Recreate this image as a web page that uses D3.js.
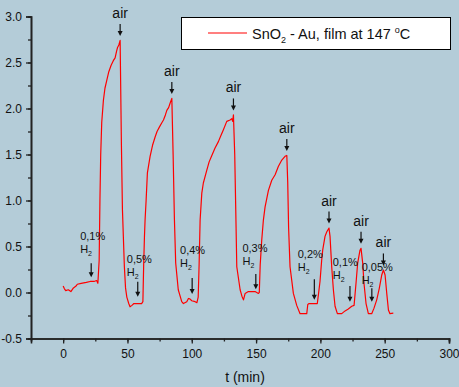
<!DOCTYPE html>
<html>
<head>
<meta charset="utf-8">
<script src="https://cdn.jsdelivr.net/npm/d3@7"></script>
<style>
  body { margin: 0; background: #b4ccd8; }
  svg { display: block; font-family: Arial, "Liberation Sans", sans-serif; }
</style>
</head>
<body>
<svg id="chart" width="459" height="387"></svg>
<script>
// measured signal, t in minutes
var timeMin = [0, 1, 2, 4, 6, 8, 10, 11, 14, 18, 21, 24, 26, 27, 28, 28.6, 29.2, 30, 31.3, 32.5,
  34, 35.5, 37.3, 39, 40.4, 41.5, 42.2, 43.3, 44.3, 45.3, 46.1, 47.6, 48.5, 49.5, 51, 52, 53.5, 55, 58, 61,
  62, 62.6, 63.2, 63.7, 64.5, 65.5, 67.6, 69.5, 71.5, 73, 74.9, 76.5, 78, 79.5, 80.6, 82, 83.2, 84.5, 85.5, 86.5,
  87.5, 89.5, 92.2, 93.5, 96.1, 97.4, 98.5, 100, 102.6, 104, 105, 105.7, 106.5, 107.8, 109, 111.7, 113.5, 115.6, 118.1, 120.7,
  122.5, 124.6, 127.2, 129.8, 131.1, 131.8, 132.4, 133.4, 134.2, 135, 137.6, 139, 140.2, 141.5, 144, 149.2, 151.8, 152.5, 153.2, 154.4,
  155.7, 157, 159.6, 162.2, 164.8, 167.3, 170, 172.5, 173.9, 174.6, 175.3, 176.4, 179, 181.6, 184.2, 189.4, 190.2, 191.2, 197.6, 198.5,
  199.7, 201, 201.8, 203.6, 205, 206.7, 207.5, 208.8, 210.1, 211.4, 213.2, 216.6, 219.2, 221.7, 224.4, 226.2, 227.7, 229, 230.8, 231.6,
  232.9, 233.9, 235.5, 237.3, 239.9, 241.7, 243.8, 245.8, 247.7, 249, 250.3, 251.6, 252.9, 254.1, 256.7];
var signal = [0.07, 0.04, 0.02, 0.03, 0.01, 0.05, 0.07, 0.09, 0.10, 0.11, 0.12, 0.12, 0.13, 0.10, 0.35, 1.0, 1.5, 1.85, 2.09, 2.22,
  2.31, 2.40, 2.47, 2.52, 2.55, 2.62, 2.66, 2.69, 2.74, 1.6, 0.9, 0.28, 0.05, -0.05, -0.12, -0.155, -0.14, -0.12, -0.12, -0.12,
  -0.10, 0.3, 0.6, 0.79, 1.0, 1.30, 1.48, 1.60, 1.69, 1.75, 1.80, 1.84, 1.875, 1.93, 1.98, 2.01, 2.06, 2.11, 1.5, 0.8,
  0.32, 0.03, -0.10, -0.12, -0.10, -0.065, -0.07, -0.09, -0.10, -0.11, -0.05, 0.3, 0.79, 1.08, 1.19, 1.33, 1.42, 1.49, 1.57, 1.64,
  1.70, 1.77, 1.86, 1.875, 1.89, 1.86, 1.93, 1.5, 0.9, 0.28, 0.03, -0.04, -0.08, -0.01, 0.01, 0.01, -0.01, 0.0, 0.3, 0.57,
  0.79, 0.93, 1.11, 1.22, 1.28, 1.37, 1.44, 1.48, 1.49, 1.2, 0.7, 0.28, -0.01, -0.14, -0.23, -0.23, -0.13, -0.12, -0.12, -0.02,
  0.12, 0.35, 0.46, 0.61, 0.66, 0.70, 0.61, 0.28, 0.03, -0.15, -0.23, -0.23, -0.20, -0.18, -0.15, -0.14, 0.1, 0.32, 0.46, 0.48,
  0.32, 0.1, -0.12, -0.23, -0.23, -0.17, -0.08, 0.045, 0.19, 0.245, 0.19, -0.01, -0.19, -0.23, -0.225];

// "air" switch points (time, peak value)
var airT = [44.3, 84.5, 132.4, 173.9, 206.7, 231.6, 249];
var airV = [2.74, 2.11, 1.93, 1.49, 0.70, 0.48, 0.245];

// H2 switch points
var h2Labels = ["0,1%", "0,5%", "0,4%", "0,3%", "0,2%", "0,1%", "0,05%"];
var h2ArrowT = [21.8, 58, 100.3, 149.8, 195.3, 223, 240];
var h2ArrowTop = [0.317, 0.117, 0.158, 0.2, 0.143, 0.07, 0.046];
var h2ArrowTip = [0.165, -0.045, -0.016, 0.035, -0.08, -0.1, -0.1];
var h2LabelT = [13.2, 49.5, 90.9, 139.4, 182.4, 209.6, 232.1];
var h2LabelV = [0.57, 0.32, 0.42, 0.44, 0.37, 0.29, 0.23];

var xTicks = [0, 50, 100, 150, 200, 250, 300];
var yTicks = [-0.5, 0.0, 0.5, 1.0, 1.5, 2.0, 2.5, 3.0];
var legendLabel = "SnO2 - Au, film at 147 °C";

var svg = d3.select("#chart");

var x = d3.scaleLinear().domain([-25, 300]).range([31, 449]);
var y = d3.scaleLinear().domain([-0.5, 3.0]).range([338.5, 16.5]);

var axisColor = "#222";
// plain hyphen for negatives, like the original
var yFmt = function (d) { return d3.format(".1f")(d).replace("\u2212", "-"); };

// minor ticks
var gx = svg.append("g").attr("transform", "translate(0," + y(-0.5) + ")");
gx.call(d3.axisBottom(x).tickValues(d3.range(-25, 301, 25)).tickSize(3).tickFormat(""));
var gx2 = svg.append("g").attr("transform", "translate(0," + y(-0.5) + ")");
gx2.call(d3.axisBottom(x).tickValues(xTicks).tickSize(5).tickPadding(6).tickFormat(d3.format("d")));

var gy = svg.append("g").attr("transform", "translate(" + x(-25) + ",0)");
gy.call(d3.axisLeft(y).tickValues(d3.range(-0.5, 3.01, 0.25)).tickSize(3).tickFormat(""));
var gy2 = svg.append("g").attr("transform", "translate(" + x(-25) + ",0)");
gy2.call(d3.axisLeft(y).tickValues(yTicks).tickSize(5).tickPadding(4).tickFormat(yFmt));

svg.selectAll(".domain").attr("stroke", axisColor).attr("stroke-width", 1.6);
svg.selectAll(".tick line").attr("stroke", axisColor).attr("stroke-width", 1.3);
svg.selectAll(".tick text").attr("fill", "#111").style("font-size", "12px")
  .style("font-family", "Arial, 'Liberation Sans', sans-serif");

svg.append("text")
  .attr("x", 245).attr("y", 382)
  .attr("text-anchor", "middle")
  .style("font-size", "14px")
  .attr("fill", "#111")
  .text("t (min)");

// curve
var pts = timeMin.map(function (t, i) { return [t, signal[i]]; });
var line = d3.line().x(function (d) { return x(d[0]); }).y(function (d) { return y(d[1]); });
svg.append("path")
  .datum(pts)
  .attr("d", line)
  .attr("fill", "none")
  .attr("stroke", "#ff0000")
  .attr("stroke-width", 1.2)
  .attr("stroke-linejoin", "round");

// arrow helper
function arrow(px, y0, y1) {
  svg.append("line")
    .attr("x1", px).attr("x2", px)
    .attr("y1", y0).attr("y2", y1 - 4)
    .attr("stroke", "#111").attr("stroke-width", 1.2);
  svg.append("path")
    .attr("d", "M" + (px - 2.5) + "," + (y1 - 5) + "L" + (px + 2.5) + "," + (y1 - 5) + "L" + px + "," + y1 + "Z")
    .attr("fill", "#111");
}

// air annotations
airT.forEach(function (t, i) {
  var px = x(t), tip = y(airV[i]) - 4.5, top = tip - 12;
  arrow(px, top, tip);
  svg.append("text")
    .attr("x", px).attr("y", top - 6)
    .attr("text-anchor", "middle")
    .style("font-size", "14px")
    .attr("fill", "#111")
    .text("air");
});

// H2 annotations
h2ArrowT.forEach(function (t, i) {
  arrow(x(t), y(h2ArrowTop[i]), y(h2ArrowTip[i]));
  var lx = x(h2LabelT[i]), ly = y(h2LabelV[i]);
  svg.append("text")
    .attr("x", lx).attr("y", ly)
    .style("font-size", "11px")
    .attr("fill", "#111")
    .text(h2Labels[i]);
  var h = svg.append("text")
    .attr("x", lx).attr("y", ly + 13)
    .style("font-size", "11px")
    .attr("fill", "#111");
  h.append("tspan").text("H");
  h.append("tspan").attr("dy", 3).style("font-size", "7px").text("2");
});

// legend
var lg = svg.append("g");
lg.append("rect")
  .attr("x", 181.5).attr("y", 17.5)
  .attr("width", 269).attr("height", 32)
  .attr("fill", "#fff").attr("stroke", "#000").attr("stroke-width", 1);
lg.append("line")
  .attr("x1", 208).attr("x2", 247).attr("y1", 33).attr("y2", 33)
  .attr("stroke", "#ff0000").attr("stroke-width", 1.2);
var lt = lg.append("text")
  .attr("x", 252).attr("y", 38.5)
  .style("font-size", "14.5px")
  .attr("fill", "#111");
var parts = legendLabel.split("2");
lt.append("tspan").text(parts[0]);
lt.append("tspan").attr("dy", 4).style("font-size", "9px").text("2");
var rest = parts[1].split("°");
lt.append("tspan").attr("dy", -4).text(rest[0]);
lt.append("tspan").attr("dy", -6).style("font-size", "9px").text("o");
lt.append("tspan").attr("dy", 6).text(rest[1]);
</script>
</body>
</html>
